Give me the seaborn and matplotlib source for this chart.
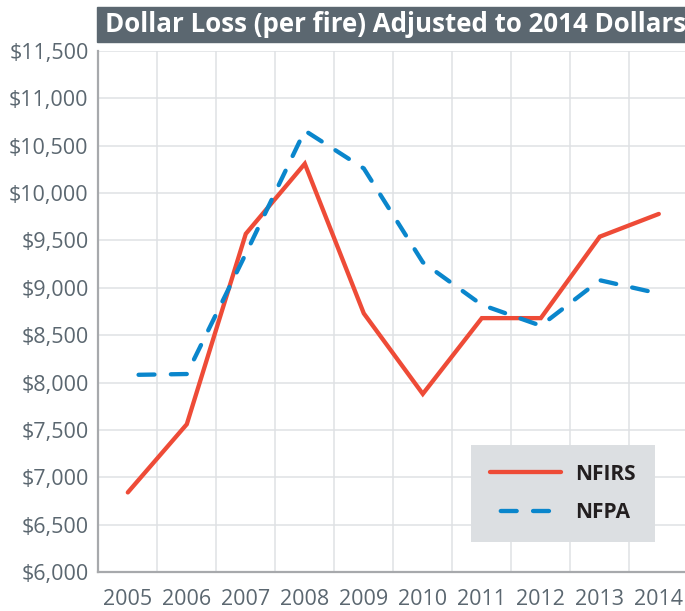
import matplotlib
matplotlib.use('Agg')

import matplotlib.pyplot as plt
import numpy as np
import pandas as pd
import seaborn as sns
from matplotlib.patches import Rectangle
from matplotlib.ticker import FixedLocator, FuncFormatter

# data
years = [2005, 2006, 2007, 2008, 2009, 2010, 2011, 2012, 2013, 2014]
nfirs = [6840, 7560, 9570, 10310, 8730, 7880, 8680, 8680, 9540, 9780]
nfpa = [8080, 8090, 9360, 10660, 10260, 9270, 8820, 8600, 9080, 8940]
y_ticks = [6000, 6500, 7000, 7500, 8000, 8500, 9000, 9500, 10000, 10500, 11000, 11500]

title = 'Dollar Loss (per fire) Adjusted to 2014 Dollars'
red = '#ee4b37'
blue = '#0a86cc'
slate = '#5b6770'
grid_col = '#dfe1e4'
spine_col = '#a7a9ac'

sns.set_style('white')
plt.rcParams['font.family'] = ['Open Sans', 'DejaVu Sans']

df = pd.DataFrame({'year': years, 'NFIRS': nfirs, 'NFPA': nfpa})

fig = plt.figure(figsize=(6.85, 6.11), dpi=100)
ax = fig.add_axes([98.3 / 685, 39 / 611, 590 / 685, 521 / 611])

sns.lineplot(data=df, x='year', y='NFIRS', ax=ax, color=red, lw=3.1,
             solid_capstyle='round', solid_joinstyle='miter', label='NFIRS', zorder=3)
sns.lineplot(data=df, x='year', y='NFPA', ax=ax, color=blue, lw=3.1,
             linestyle=(5.0, (3.7, 3.8)), dash_capstyle='round',
             dash_joinstyle='miter', label='NFPA', zorder=3)

ax.set_xlim(years[0] - 0.5, years[-1] + 0.5)
ax.set_ylim(y_ticks[0], y_ticks[-1])
ax.set_xticks(years)
ax.set_xticklabels([str(y) for y in years])
ax.xaxis.set_minor_locator(FixedLocator([y + 0.5 for y in years]))
ax.set_yticks(y_ticks)
ax.yaxis.set_major_formatter(FuncFormatter(lambda v, p: f'${v:,.0f}'))
ax.set_xlabel('')
ax.set_ylabel('')

ax.grid(False)
ax.yaxis.grid(True, color=grid_col, lw=1.1)
ax.xaxis.grid(True, which='minor', color=grid_col, lw=1.1)
ax.set_axisbelow(True)

for side in ['top', 'right']:
    ax.spines[side].set_visible(False)
for side in ['left', 'bottom']:
    ax.spines[side].set_color(spine_col)
    ax.spines[side].set_linewidth(1.6)

ax.tick_params(axis='x', which='major', length=0, pad=12, labelsize=15.5, labelcolor=slate)
ax.tick_params(axis='x', which='minor', length=8.5, width=1.6, color=spine_col, direction='out')
ax.tick_params(axis='y', which='major', length=0, pad=7, labelsize=15.5, labelcolor=slate)

leg = ax.legend(loc='upper left', bbox_to_anchor=(471 / 685, 1 - 445 / 611),
                bbox_transform=fig.transFigure, borderaxespad=0,
                frameon=True, fancybox=False, facecolor='#dcdfe2', edgecolor='none',
                framealpha=1, handlelength=3.4, handletextpad=0.7,
                borderpad=0.9, labelspacing=0.85,
                prop={'family': 'Open Sans', 'weight': 'bold', 'size': 15})
for t in leg.get_texts():
    t.set_color('#231f20')

# title bar
fig.patches.append(Rectangle((97 / 685, 1 - 41.7 / 611), 588 / 685, 34.4 / 611,
                             transform=fig.transFigure, color=slate, zorder=0))
fig.text(105 / 685, 1 - 25 / 611, title, color='white', fontsize=18.6,
         fontweight='bold', ha='left', va='center')

fig.savefig('out.png', dpi=100)
plt.close(fig)
